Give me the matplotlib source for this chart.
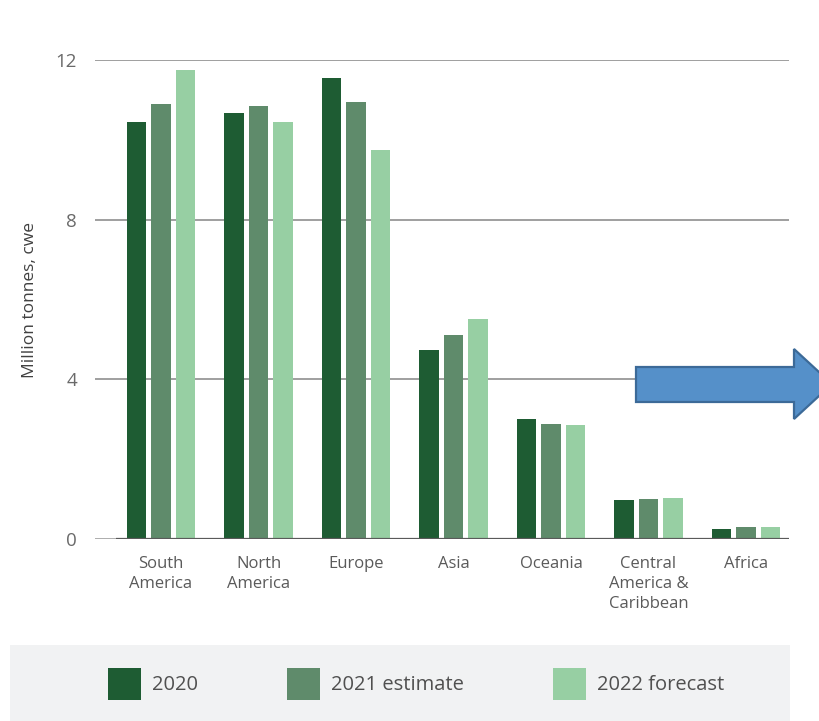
import matplotlib
matplotlib.use('Agg')
import matplotlib.pyplot as plt
import numpy as np
from matplotlib.patches import Rectangle, Polygon

# regions and values (million tonnes, cwe)
REGIONS = ['South\nAmerica', 'North\nAmerica', 'Europe', 'Asia', 'Oceania',
           'Central\nAmerica &\nCaribbean', 'Africa']
VALUES_2020 = [10.45, 10.68, 11.55, 4.74, 3.00, 0.97, 0.26]
VALUES_2021 = [10.89, 10.86, 10.95, 5.10, 2.88, 1.00, 0.29]
VALUES_2022 = [11.75, 10.45, 9.75, 5.51, 2.85, 1.03, 0.29]
SERIES = ['2020', '2021 estimate', '2022 forecast']
COLORS = ['#1e5c33', '#5f8b6b', '#97cfa3']
Y_TICKS = [0, 4, 8, 12]

W, H = 819, 721


def main():
    plt.rcParams['font.family'] = ['Open Sans', 'DejaVu Sans']
    fig = plt.figure(figsize=(W / 100, H / 100), dpi=100)
    ax = fig.add_axes([95 / W, 1 - 539 / H, (789 - 95) / W, (539 - 60) / H])

    x = np.arange(len(REGIONS))
    width = 0.2
    step = 0.251
    bars = []
    for i, vals in enumerate([VALUES_2020, VALUES_2021, VALUES_2022]):
        b = ax.bar(x + (i - 1) * step, vals, width, color=COLORS[i],
                   label=SERIES[i], zorder=3)
        bars.append(b)

    ax.set_xlim(-0.677, 6.441)
    ax.set_ylim(0, 12)
    ax.set_yticks(Y_TICKS)
    ax.set_xticks(x)
    ax.set_xticklabels(REGIONS, fontsize=12, color='#5a5a5a', linespacing=1.35)
    ax.tick_params(axis='x', length=0, pad=12)
    ax.tick_params(axis='y', length=0, pad=13, labelsize=13.5, labelcolor='#6a6a6a')
    for t in Y_TICKS[1:]:
        ax.axhline(t, color='#8f8f8f', lw=1.2, zorder=1)
    ax.axhline(0, color='#a0a0a0', lw=1.2, zorder=1)
    ax.plot([-0.46, 6.441], [0, 0], color='#5a5a5a', lw=1.6, zorder=4,
            solid_capstyle='butt')
    for s in ax.spines.values():
        s.set_visible(False)
    ax.set_ylabel('Million tonnes, cwe', fontsize=12.5, color='#404040', labelpad=13)

    # legend background
    fig.patches.append(Rectangle((10 / W, 0), (790 - 10) / W, (H - 645) / H,
                                 transform=fig.transFigure, facecolor='#f1f2f3',
                                 edgecolor='none', zorder=0))
    fig.legend(handles=bars, labels=SERIES, loc='center left',
               bbox_to_anchor=(90 / W, 1 - 684 / H), ncol=3, frameon=False,
               fontsize=14.5, handlelength=1.65, handleheight=2.0,
               handletextpad=0.55, columnspacing=4.4, labelcolor='#505050')

    # blue arrow overlay
    pts = [(636, 367), (794, 367), (794, 349), (832, 384), (794, 419),
           (794, 402), (636, 402)]
    arrow = Polygon([(px / W, 1 - py / H) for px, py in pts], closed=True,
                    transform=fig.transFigure, facecolor='#5590c9',
                    edgecolor='#3c6a98', lw=1.6, zorder=10)
    fig.patches.append(arrow)

    fig.savefig('out.png', dpi=100)


if __name__ == '__main__':
    main()
